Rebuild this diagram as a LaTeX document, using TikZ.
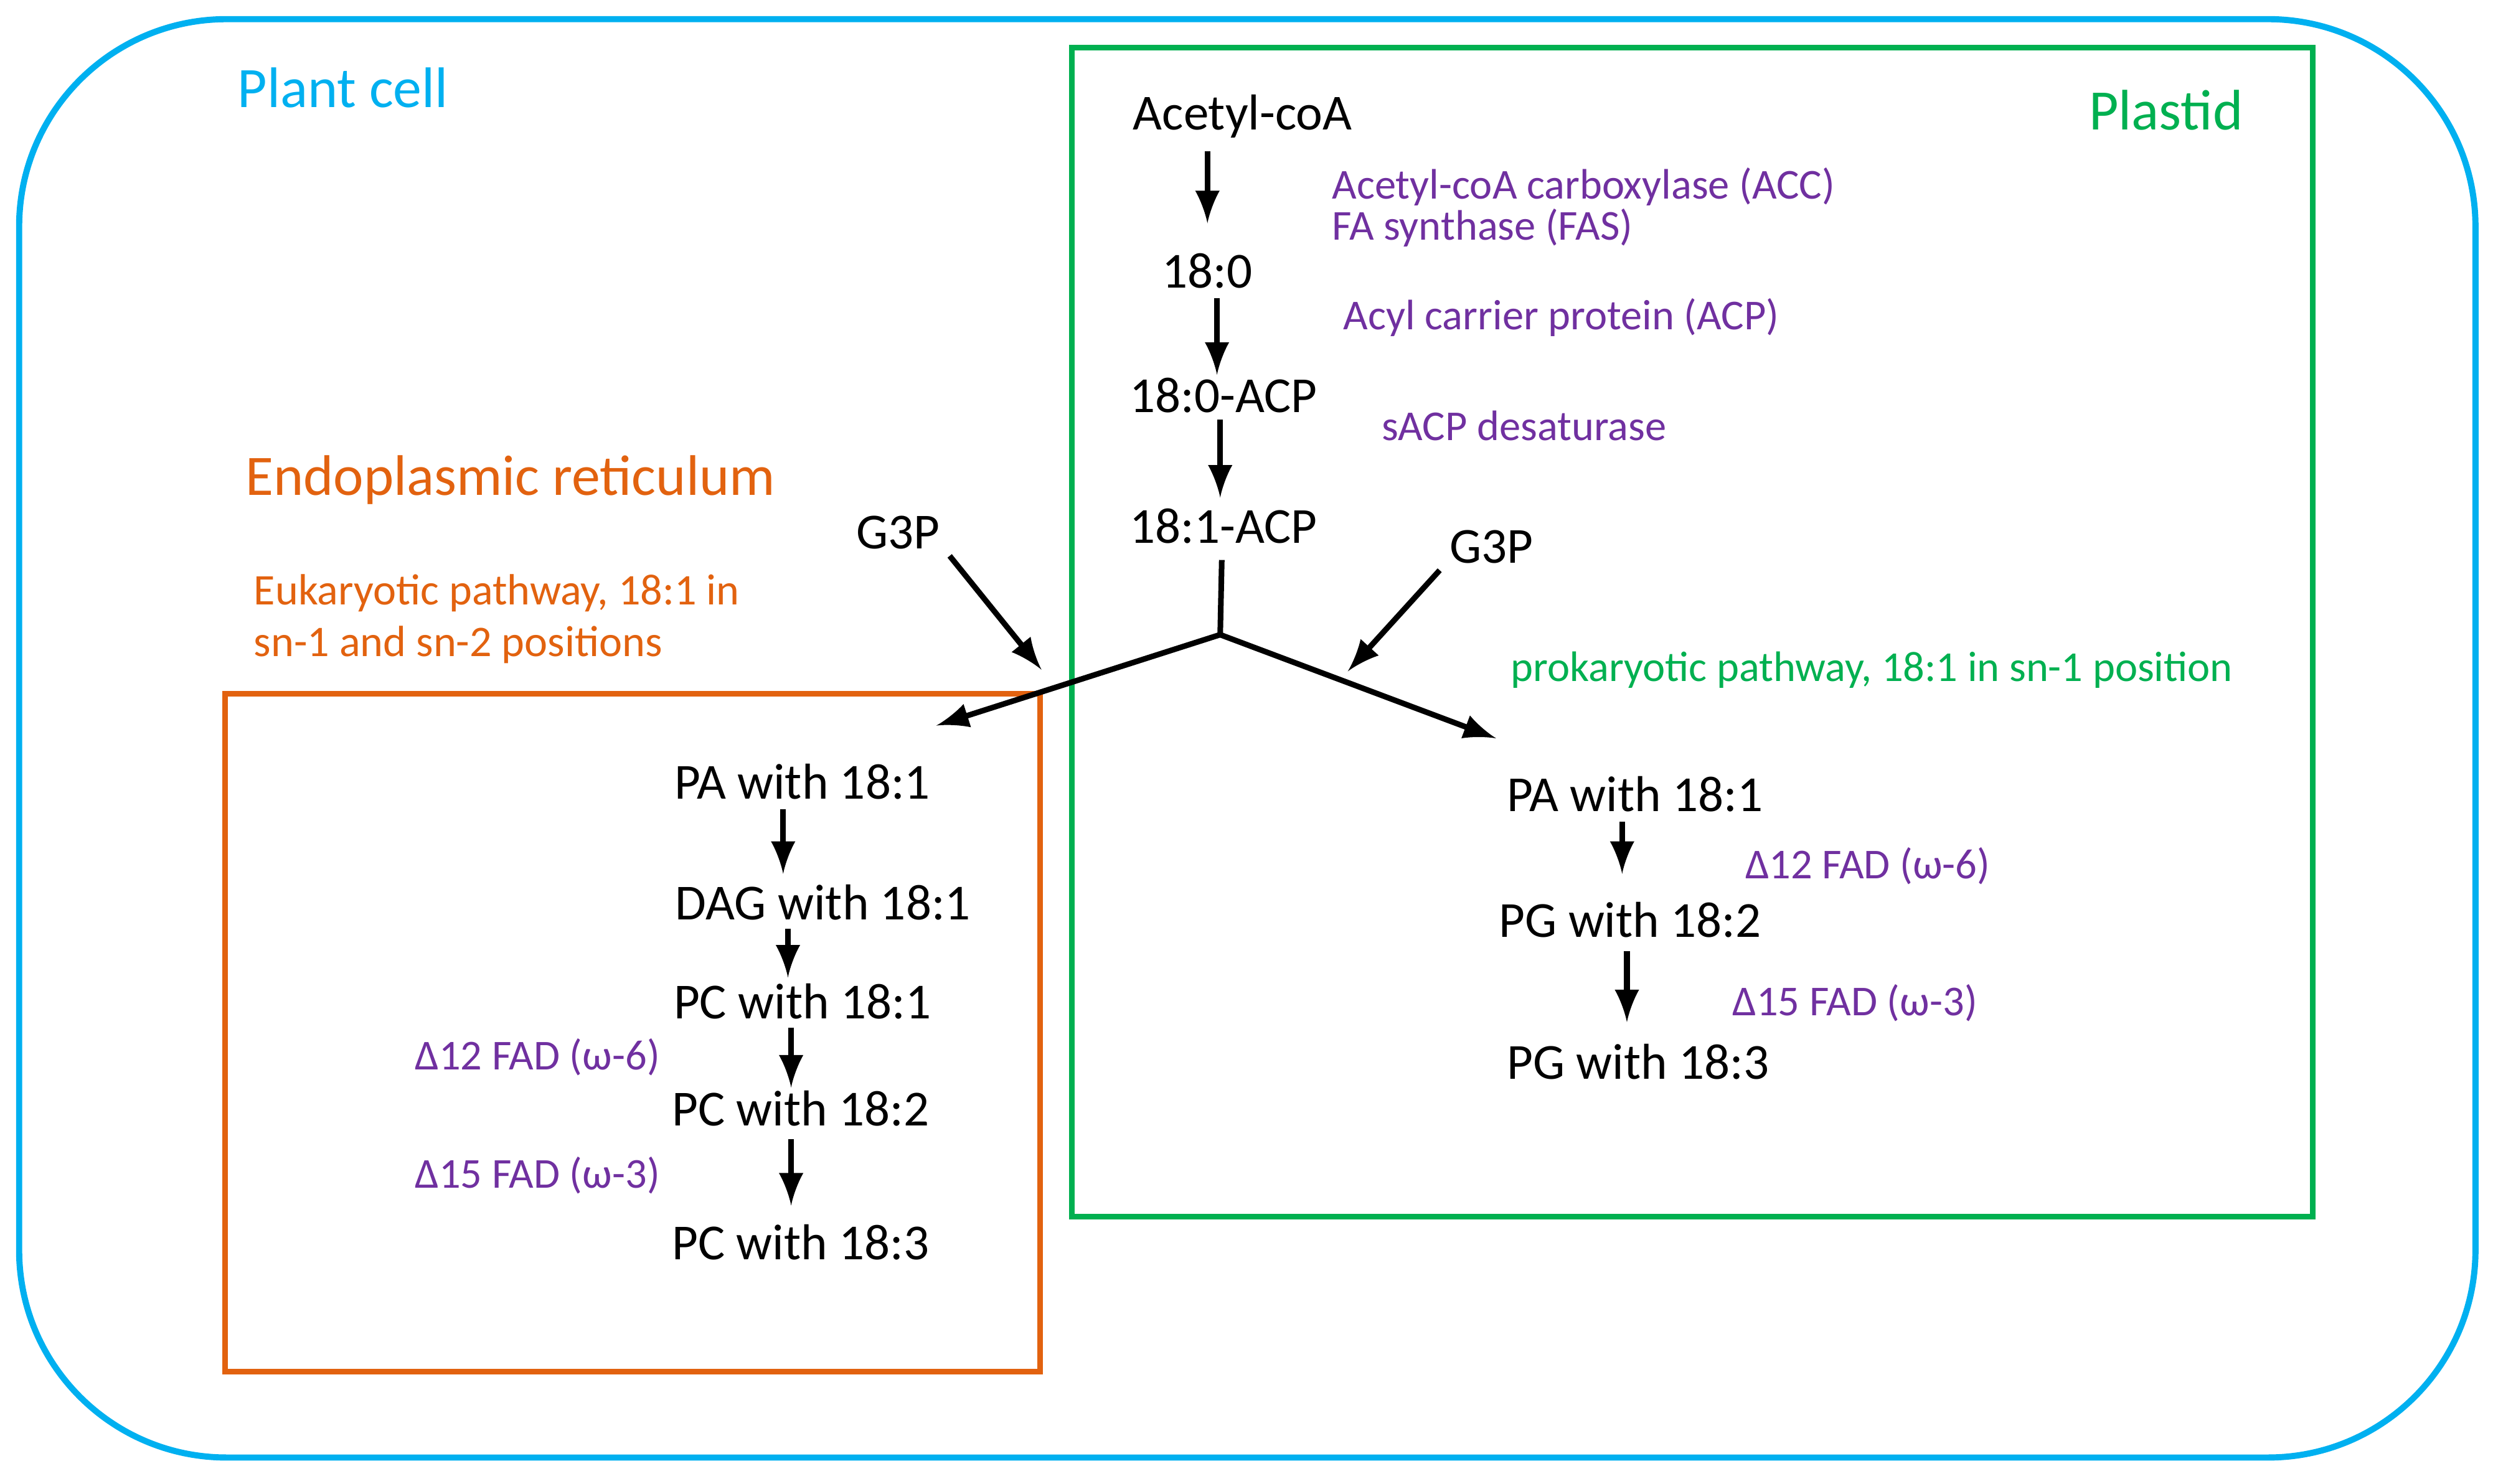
\documentclass[tikz,border=0pt]{standalone}
\usepackage{fontspec}
\setmainfont{Carlito}
\begin{document}
\definecolor{pcyan}{HTML}{00B0F0}
\definecolor{pgreen}{HTML}{00B050}
\definecolor{porange}{HTML}{E2620F}
\definecolor{ppurple}{HTML}{7030A0}
\begin{tikzpicture}[x=0.01cm,y=-0.01cm,
  blk/.style={font=\fontsize{9}{11}\selectfont,inner sep=1pt},
  enz/.style={font=\fontsize{7.6}{9}\selectfont,text=ppurple,anchor=west,inner sep=1pt},
  ]
\useasboundingbox (0,0) rectangle (1563,930.6);
\draw[pcyan,line width=1.1pt,rounded corners=1.3cm] (12,12) rectangle (1552,914);
\draw[pgreen,line width=1pt] (672,30) rectangle (1450,763);
\draw[porange,line width=1pt] (141,435) rectangle (652,860);
\node[font=\fontsize{10.2}{12}\selectfont,text=pcyan] (pc) at (215,55) {Plant cell};
\node[font=\fontsize{10.2}{12}\selectfont,text=pgreen] (pl) at (1358,69) {Plastid};
\node[font=\fontsize{10.2}{12}\selectfont,text=porange] (er) at (320,301) {Endoplasmic reticulum};
\node[font=\fontsize{7.8}{9.2}\selectfont,text=porange,anchor=west,align=left,inner sep=1pt] (eu) at (155,388) {Eukaryotic pathway, 18:1 in\\sn-1 and sn-2 positions};
\node[enz,text=pgreen] (pro) at (943,420) {prokaryotic pathway, 18:1 in sn-1 position};
% plastid chain
\node[blk] (acoa) at (779,73) {Acetyl-coA};
\node[blk] (s180) at (757,170) {18:0};
\node[blk] (acp0) at (767,248) {18:0-ACP};
\node[blk] (acp1) at (767,330) {18:1-ACP};
\node[enz] (e1) at (831,117) {Acetyl-coA carboxylase (ACC)};
\node[enz] (e2) at (831,143) {FA synthase (FAS)};
\node[enz] (e3) at (838,199) {Acyl carrier protein (ACP)};
\node[enz] (e4) at (862,267) {sACP desaturase};
\coordinate (j) at (765,398);
\node[blk] (g1) at (563,334) {G3P};
\node[blk] (g2) at (935,343) {G3P};
% right
\node[blk] (rpa) at (1025,498) {PA with 18:1};
\node[blk] (rpg2) at (1022,577) {PG with 18:2};
\node[blk] (rpg3) at (1027,666) {PG with 18:3};
\node[enz] (r12) at (1090,543) {Δ12 FAD (ω-6)};
\node[enz] (r15) at (1082,629) {Δ15 FAD (ω-3)};
% left
\node[blk] (lpa) at (503,490) {PA with 18:1};
\node[blk] (ldag) at (516,566) {DAG with 18:1};
\node[blk] (lpc1) at (503,628) {PC with 18:1};
\node[blk] (lpc2) at (502,695) {PC with 18:2};
\node[blk] (lpc3) at (502,779) {PC with 18:3};
\node[enz] (l12) at (256,663) {Δ12 FAD (ω-6)};
\node[enz] (l15) at (256,737) {Δ15 FAD (ω-3)};
\begin{scope}[line width=1pt,-latex]
\draw (acoa.south -| 757,0) ++(0,4) -- (757,140);
\draw (s180.south -| 763,0) ++(0,2) -- (763,235);
\draw (acp0.south -| 765,0) -- (765,312);
\draw[-] (acp1.south -| 766,0) ++(0,6) -- (j);
\draw (j) -- (587,455);
\draw (j) -- (938,463);
\draw (g1.south east) ++(2,0) -- (653,420);
\draw (g2.south west) ++(-2,0) -- (845,421);
\draw (rpa.south -| 1017,0) ++(0,2) -- (1017,548);
\draw (rpg2.south -| 1020,0) ++(0,4) -- (1020,641);
\draw (lpa.south -| 491,0) ++(0,2) -- (491,548);
\draw (ldag.south -| 494,0) ++(0,1) -- (494,613);
\draw (lpc1.south -| 496,0) ++(0,1) -- (496,682);
\draw (lpc2.south -| 496,0) ++(0,4) -- (496,756);
\end{scope}
\end{tikzpicture}
\end{document}
